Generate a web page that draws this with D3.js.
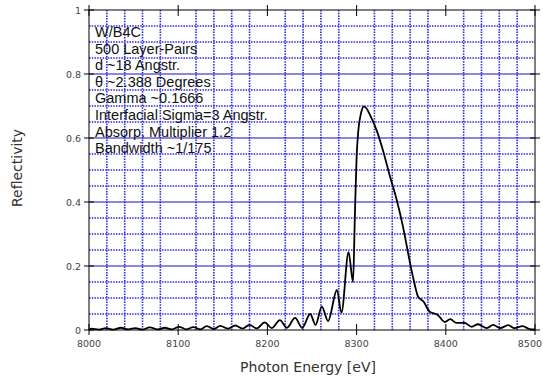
<!DOCTYPE html>
<html>
<head>
<meta charset="utf-8">
<script src="https://cdn.jsdelivr.net/npm/d3@7"></script>
<style>
  body { margin: 0; background: #fff; }
  svg { display: block; }
  .tick-label { font-family: "DejaVu Sans", sans-serif; font-size: 9.5px; fill: #444; }
  .axis-title { font-family: "DejaVu Sans", sans-serif; font-size: 14px; fill: #333; }
  .note { font-family: "Liberation Sans", Arial, sans-serif; font-size: 14.5px; fill: #111; }
</style>
</head>
<body>
<div id="chart"></div>
<script>
// photon energy (eV) and reflectivity
var energy = [8000, 8003, 8011, 8019, 8027, 8036, 8044, 8052, 8060, 8068, 8077, 8085, 8093, 8101,
  8109, 8117, 8125, 8132, 8140, 8147, 8156, 8164, 8172, 8180, 8188, 8197, 8205, 8214, 8222, 8231,
  8239, 8248, 8254, 8261, 8268, 8278, 8283, 8291, 8296, 8298, 8300, 8302, 8305, 8308, 8311, 8315,
  8323, 8330, 8337, 8345, 8352, 8360, 8364, 8369, 8375, 8382, 8391, 8399, 8405, 8412, 8421, 8429,
  8436, 8446, 8453, 8461, 8470, 8477, 8486, 8494, 8500];
var reflectivity = [0.001, 0.004, 0.001, 0.006, 0.001, 0.007, 0.002, 0.006, 0.001, 0.008, 0.002,
  0.007, 0.002, 0.010, 0.002, 0.009, 0.002, 0.012, 0.003, 0.013, 0.004, 0.014, 0.004, 0.016, 0.005,
  0.024, 0.006, 0.031, 0.007, 0.038, 0.007, 0.050, 0.016, 0.073, 0.028, 0.125, 0.054, 0.243, 0.150,
  0.35, 0.54, 0.625, 0.678, 0.698, 0.693, 0.672, 0.620, 0.557, 0.484, 0.406, 0.323, 0.208, 0.156,
  0.104, 0.089, 0.057, 0.047, 0.025, 0.034, 0.022, 0.022, 0.010, 0.018, 0.006, 0.016, 0.006, 0.015,
  0.006, 0.012, 0.003, 0.002];

var xTicks = [8000, 8100, 8200, 8300, 8400, 8500];
var yTicks = [0, 0.2, 0.4, 0.6, 0.8, 1];
var yTickLabels = ["0", "0.2", "0.4", "0.6", "0.8", "1"];

var notes = ["W/B4C", "500 Layer-Pairs", "d ~18 Angstr.", "\u03b8 ~2.388 Degrees", "Gamma ~0.1666",
  "Interfacial Sigma=3 Angstr.", "Absorp. Multiplier 1.2", "Bandwidth ~1/175"];

var width = 543, height = 381;
var margin = {left: 89, right: 8, top: 10, bottom: 51};
var w = width - margin.left - margin.right;
var h = height - margin.top - margin.bottom;

var svg = d3.select("#chart").append("svg")
  .attr("width", width)
  .attr("height", height);

var g = svg.append("g")
  .attr("transform", `translate(${margin.left},${margin.top})`);

var x = d3.scaleLinear().domain([8000, 8500]).range([0, w]);
var y = d3.scaleLinear().domain([0, 1]).range([h, 0]);

/* dotted minor grid */
var gridColor = "#2a2ae0";
g.append("g")
  .selectAll("line")
  .data(d3.range(8020, 8500, 20).filter(v => v % 100 !== 0))
  .enter().append("line")
  .attr("x1", d => x(d)).attr("x2", d => x(d))
  .attr("y1", 0).attr("y2", h)
  .attr("stroke", gridColor)
  .attr("stroke-width", 1.6)
  .attr("stroke-dasharray", "1.5,1.2");

g.append("g")
  .selectAll("line")
  .data(d3.range(1, 20).map(i => i * 0.05).filter(v => Math.abs(v / 0.2 - Math.round(v / 0.2)) > 0.01))
  .enter().append("line")
  .attr("x1", 0).attr("x2", w)
  .attr("y1", d => y(d)).attr("y2", d => y(d))
  .attr("stroke", gridColor)
  .attr("stroke-width", 1.6)
  .attr("stroke-dasharray", "1.5,1.2");

/* solid major grid */
g.append("g")
  .selectAll("line")
  .data(yTicks.slice(1, -1))
  .enter().append("line")
  .attr("x1", 0).attr("x2", w)
  .attr("y1", d => y(d)).attr("y2", d => y(d))
  .attr("stroke", "#1010d0")
  .attr("stroke-width", 1.2);

/* notes */
g.append("g")
  .selectAll("text")
  .data(notes)
  .enter().append("text")
  .attr("class", "note")
  .attr("x", 6)
  .attr("y", (d, i) => 27 + i * 16.6)
  .text(d => d);

/* curve */
var pts = energy.map((e, i) => [e, reflectivity[i]]);
var line = d3.line()
  .x(d => x(d[0]))
  .y(d => y(d[1]))
  .curve(d3.curveMonotoneX);

g.append("path")
  .datum(pts)
  .attr("d", line)
  .attr("fill", "none")
  .attr("stroke", "#000")
  .attr("stroke-width", 1.8)
  .attr("stroke-linejoin", "round");

/* frame with crossing ticks */
var frame = g.append("g").attr("stroke", "#000").attr("stroke-width", 1);
frame.append("rect")
  .attr("x", 0).attr("y", 0).attr("width", w).attr("height", h)
  .attr("fill", "none");

xTicks.forEach(t => {
  frame.append("line").attr("x1", x(t)).attr("x2", x(t)).attr("y1", h - 6).attr("y2", h + 5);
  frame.append("line").attr("x1", x(t)).attr("x2", x(t)).attr("y1", -5).attr("y2", 6);
});
yTicks.forEach(t => {
  frame.append("line").attr("x1", -5).attr("x2", 5).attr("y1", y(t)).attr("y2", y(t));
  frame.append("line").attr("x1", w - 5).attr("x2", w + 5).attr("y1", y(t)).attr("y2", y(t));
});

/* tick labels */
g.append("g")
  .selectAll("text")
  .data(xTicks)
  .enter().append("text")
  .attr("class", "tick-label")
  .attr("x", d => d === 8500 ? width - margin.left - 1 : x(d))
  .attr("y", h + 17)
  .attr("text-anchor", d => d === 8500 ? "end" : "middle")
  .text(d => d);

g.append("g")
  .selectAll("text")
  .data(yTicks)
  .enter().append("text")
  .attr("class", "tick-label")
  .attr("x", -8)
  .attr("y", d => y(d) + 3.5)
  .attr("text-anchor", "end")
  .text((d, i) => yTickLabels[i]);

/* axis titles */
svg.append("text")
  .attr("class", "axis-title")
  .attr("x", margin.left + w / 2 - 4)
  .attr("y", 372)
  .attr("text-anchor", "middle")
  .text("Photon Energy [eV]");

svg.append("text")
  .attr("class", "axis-title")
  .attr("transform", "translate(22,168) rotate(-90)")
  .attr("text-anchor", "middle")
  .text("Reflectivity");
</script>
</body>
</html>
